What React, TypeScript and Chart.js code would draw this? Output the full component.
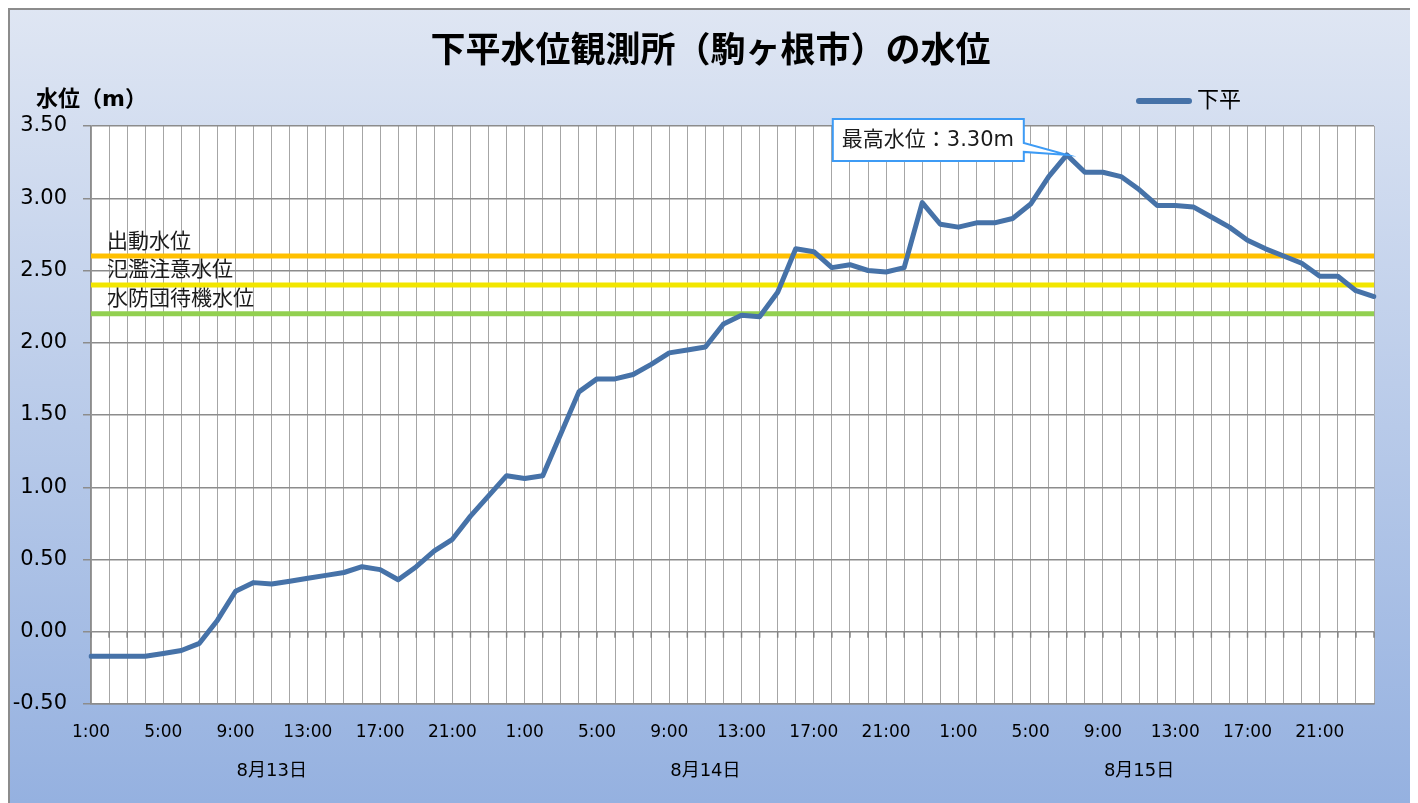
import React, { useEffect, useRef } from 'react';
import { Chart, registerables } from 'chart.js';

Chart.register(...registerables);

const titleText = '下平水位観測所（駒ヶ根市）の水位';
const yAxisTitle = '水位（m）';
const seriesName = '下平';
const days = ['8月13日', '8月14日', '8月15日'];
const hourLabels = [
  '1:00', '2:00', '3:00', '4:00', '5:00', '6:00', '7:00', '8:00',
  '9:00', '10:00', '11:00', '12:00', '13:00', '14:00', '15:00', '16:00',
  '17:00', '18:00', '19:00', '20:00', '21:00', '22:00', '23:00', '24:00',
];
const levels = [
  -0.17, -0.17, -0.17, -0.17, -0.15, -0.13, -0.08, 0.08,
  0.28, 0.34, 0.33, 0.35, 0.37, 0.39, 0.41, 0.45,
  0.43, 0.36, 0.45, 0.56, 0.64, 0.80, 0.94, 1.08,
  1.06, 1.08, 1.37, 1.66, 1.75, 1.75, 1.78, 1.85,
  1.93, 1.95, 1.97, 2.13, 2.19, 2.18, 2.35, 2.65,
  2.63, 2.52, 2.54, 2.50, 2.49, 2.52, 2.97, 2.82,
  2.80, 2.83, 2.83, 2.86, 2.96, 3.15, 3.30, 3.18,
  3.18, 3.15, 3.06, 2.95, 2.95, 2.94, 2.87, 2.80,
  2.71, 2.65, 2.60, 2.55, 2.46, 2.46, 2.36, 2.32,
];
const thresholdNames = ['出動水位', '氾濫注意水位', '水防団待機水位'];
const thresholdValues = [2.6, 2.4, 2.2];
const thresholdColors = ['#FFC000', '#F2E600', '#92D050'];
const yMin = -0.5;
const yMax = 3.5;
const yStep = 0.5;
const labelEvery = 4;

const FONT = '"DejaVu Sans", "Noto Sans CJK JP", sans-serif';
const LINE_COLOR = '#4672A8';

const decorPlugin = {
  id: 'decor',
  beforeDraw(chart: any) {
    const { ctx, width, height, chartArea: a } = chart;
    ctx.save();
    const g = ctx.createLinearGradient(0, 0, 0, height);
    g.addColorStop(0, '#dfe6f3');
    g.addColorStop(1, '#95b1e0');
    ctx.fillStyle = g;
    ctx.fillRect(0, 0, width, height);
    ctx.strokeStyle = '#8c8c8c';
    ctx.lineWidth = 2;
    ctx.beginPath();
    ctx.moveTo(1, height);
    ctx.lineTo(1, 1);
    ctx.lineTo(width - 1, 1);
    ctx.lineTo(width - 1, height);
    ctx.stroke();
    ctx.fillStyle = '#ffffff';
    ctx.fillRect(a.left, a.top, a.right - a.left, a.bottom - a.top);
    ctx.restore();
  },
  beforeDatasetsDraw(chart: any) {
    const { ctx, chartArea: a, scales } = chart;
    const xs = scales.x;
    const ys = scales.y;
    ctx.save();
    // tick marks on the zero line
    const y0 = ys.getPixelForValue(0);
    ctx.strokeStyle = '#808080';
    ctx.lineWidth = 1.5;
    for (let i = 0; i < levels.length; i++) {
      const x = xs.getPixelForValue(i);
      ctx.beginPath();
      ctx.moveTo(x, y0);
      ctx.lineTo(x, y0 + 6);
      ctx.stroke();
    }
    // threshold lines
    thresholdValues.forEach((v, i) => {
      const y = ys.getPixelForValue(v);
      ctx.strokeStyle = thresholdColors[i];
      ctx.lineWidth = 5;
      ctx.beginPath();
      ctx.moveTo(a.left, y);
      ctx.lineTo(a.right, y);
      ctx.stroke();
      ctx.fillStyle = '#1a1a1a';
      ctx.font = `21px ${FONT}`;
      ctx.textAlign = 'left';
      ctx.textBaseline = 'middle';
      ctx.fillText(thresholdNames[i], a.left + 16, y - 14);
    });
    ctx.restore();
  },
  afterDraw(chart: any) {
    const { ctx, width, scales } = chart;
    const xs = scales.x;
    const ys = scales.y;
    ctx.save();
    // title
    ctx.fillStyle = '#000';
    ctx.font = `bold 35px ${FONT}`;
    ctx.textAlign = 'center';
    ctx.textBaseline = 'middle';
    ctx.fillText(titleText, width / 2, 45);
    // y axis title
    ctx.font = `bold 22px ${FONT}`;
    ctx.textAlign = 'left';
    ctx.fillText(yAxisTitle, 28, 92);
    // legend
    ctx.strokeStyle = LINE_COLOR;
    ctx.lineWidth = 6;
    ctx.lineCap = 'round';
    ctx.beginPath();
    ctx.moveTo(1131, 93);
    ctx.lineTo(1181, 93);
    ctx.stroke();
    ctx.font = `22px ${FONT}`;
    ctx.fillStyle = '#000';
    ctx.fillText(seriesName, 1189, 93);
    // day labels
    ctx.font = `18px ${FONT}`;
    ctx.textAlign = 'center';
    days.forEach((d, i) => {
      const start = i * hourLabels.length;
      const end = start + hourLabels.length - labelEvery;
      const x = (xs.getPixelForValue(start) + xs.getPixelForValue(end)) / 2;
      ctx.fillText(d, x, 763);
    });
    // callout for the maximum
    const maxV = Math.max(...levels);
    const idx = levels.indexOf(maxV);
    const px = xs.getPixelForValue(idx);
    const py = ys.getPixelForValue(maxV);
    const left = px - 234;
    const right = px - 43;
    const top = py - 36;
    const bottom = py + 6;
    ctx.beginPath();
    ctx.moveTo(left, top);
    ctx.lineTo(right, top);
    ctx.lineTo(right, py - 12);
    ctx.lineTo(px, py);
    ctx.lineTo(right, py - 3);
    ctx.lineTo(right, bottom);
    ctx.lineTo(left, bottom);
    ctx.closePath();
    ctx.fillStyle = '#ffffff';
    ctx.fill();
    ctx.strokeStyle = '#3d9bf5';
    ctx.lineWidth = 2;
    ctx.lineCap = 'butt';
    ctx.stroke();
    ctx.fillStyle = '#1a1a1a';
    ctx.font = `21px ${FONT}`;
    ctx.textAlign = 'left';
    ctx.textBaseline = 'middle';
    ctx.fillText(`最高水位：${maxV.toFixed(2)}m`, left + 9, (top + bottom) / 2 + 1);
    ctx.restore();
  },
};

export default function App() {
  const ref = useRef<HTMLCanvasElement | null>(null);
  useEffect(() => {
    if (!ref.current) return;
    const labels = days.flatMap(() => hourLabels);
    const chart = new Chart(ref.current, {
      type: 'line',
      data: {
        labels,
        datasets: [
          {
            label: seriesName,
            data: levels,
            borderColor: LINE_COLOR,
            backgroundColor: LINE_COLOR,
            borderWidth: 5,
            pointRadius: 0,
            tension: 0,
            borderJoinStyle: 'round',
            borderCapStyle: 'round',
          },
        ],
      },
      options: {
        responsive: false,
        animation: false,
        layout: { padding: { top: 118, right: 39, left: 0, bottom: 0 } },
        plugins: {
          legend: { display: false },
          title: { display: false },
          tooltip: { enabled: false },
        },
        scales: {
          x: {
            type: 'category',
            offset: false,
            grid: { color: '#a6a6a6', lineWidth: 1, drawTicks: false },
            border: { color: '#8c8c8c', width: 1.5 },
            ticks: {
              autoSkip: false,
              maxRotation: 0,
              minRotation: 0,
              padding: 18,
              color: '#000',
              font: { family: FONT, size: 17 },
              callback: (_v: any, i: number) => (i % labelEvery === 0 ? labels[i] : ''),
            },
            afterFit: (s: any) => {
              s.height = 99;
            },
          },
          y: {
            min: yMin,
            max: yMax,
            grid: { color: '#8c8c8c', lineWidth: 1.5, tickLength: 8, tickColor: '#8c8c8c' },
            border: { color: '#8c8c8c', width: 1.5 },
            ticks: {
              stepSize: yStep,
              padding: 16,
              color: '#000',
              font: { family: FONT, size: 21 },
              callback: (v: any) => Number(v).toFixed(2),
            },
            afterFit: (s: any) => {
              s.width = 83;
            },
          },
        },
      },
      plugins: [decorPlugin],
    });
    return () => chart.destroy();
  }, []);
  return (
    <canvas
      ref={ref}
      width={1405}
      height={795}
      style={{ display: 'block', width: '1405px', height: '795px' }}
    />
  );
}
